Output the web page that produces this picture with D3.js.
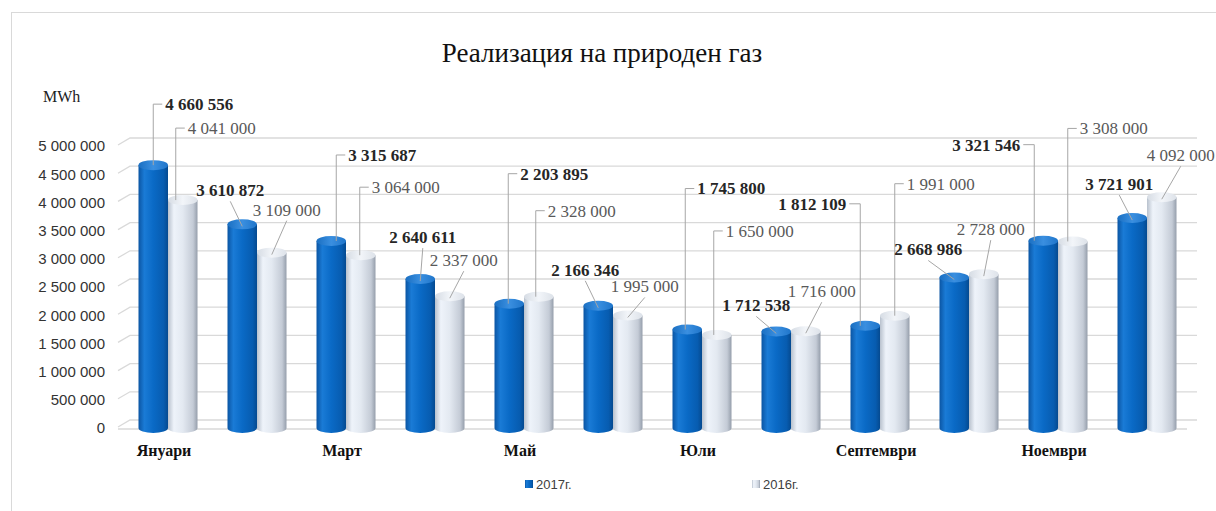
<!DOCTYPE html>
<html>
<head>
<meta charset="utf-8">
<script src="https://cdn.jsdelivr.net/npm/d3@7"></script>
<style>
  body { margin: 0; background: #fff; }
</style>
</head>
<body>
<div class="chart"></div>
<script>
// данни
const months = ["Януари", "Февруари", "Март", "Април", "Май", "Юни", "Юли", "Август", "Септември", "Октомври", "Ноември", "Декември"]
const series = ["2017г.", "2016г."]
const values2017 = [4660556, 3610872, 3315687, 2640611, 2203895, 2166346, 1745800, 1712538, 1812109, 2668986, 3321546, 3721901]
const values2016 = [4041000, 3109000, 3064000, 2337000, 2328000, 1995000, 1650000, 1716000, 1991000, 2728000, 3308000, 4092000]
const yTicks = [0, 500000, 1000000, 1500000, 2000000, 2500000, 3000000, 3500000, 4000000, 4500000, 5000000]
const shownMonths = ["Януари", "Март", "Май", "Юли", "Септември", "Ноември"]

// разположение на етикетите спрямо върха на цилиндъра: [dx, dy, вид на линията]
const place2017 = [[12, -61, "v"], [-46, -34, "d"], [17, -86, "v"], [-31, -42, "d"], [11, -130, "v"], [-47, -36, "d"],
  [10, -141, "v"], [-54, -26, "d"], [-19, -122, "vl"], [-60, -28, "d"], [-23, -96, "vl"], [-47, -34, "d"]]
const place2016 = [[5, -72, "v"], [-19, -43, "d"], [11, -68, "v"], [-20, -36, "d"], [9, -86, "v"], [-17, -29, "d"],
  [9, -104, "v"], [-18, -40, "d"], [12, -132, "v"], [-27, -45, "d"], [7, -113, "v"], [-15, -42, "d"]]

const width = 1216, height = 511
const fmt = d3.formatLocale({ decimal: ",", thousands: " ", grouping: [3], currency: ["", ""] }).format(",d")

const svg = d3.select(".chart").append("svg")
  .attr("width", width).attr("height", height)
  .style("font-family", "'Liberation Serif', 'Times New Roman', serif")

// рамка
svg.append("rect").attr("x", 11.5).attr("y", 12.5).attr("width", 1220).attr("height", 520)
  .attr("fill", "none").attr("stroke", "#d9d9d9")

const x = d3.scaleBand().domain(months).range([123.5, 1191.5])
const xs = d3.scaleBand().domain(series).range([15, 74])
const y = d3.scaleLinear().domain([0, 5000000]).range([428, 146])

const defs = svg.append("defs")
function grad(id, stops) {
  const g = defs.append("linearGradient").attr("id", id).attr("x1", 0).attr("x2", 1).attr("y1", 0).attr("y2", 0)
  stops.forEach(([o, c]) => g.append("stop").attr("offset", o).attr("stop-color", c))
}
grad("blueBody", [[0, "#0b55a3"], [0.2, "#1a7bd6"], [0.5, "#0a6ac6"], [0.85, "#075cb0"], [1, "#054a90"]])
grad("blueTop", [[0, "#1a6fc2"], [0.5, "#3a8fe0"], [1, "#1f75ca"]])
grad("whiteBody", [[0, "#b8c1cd"], [0.2, "#eef3fa"], [0.5, "#e3e9f1"], [0.85, "#c4cbd6"], [1, "#959eab"]])
grad("whiteTop", [[0, "#d6dce4"], [0.5, "#f2f5f9"], [1, "#dde2e9"]])

// мрежа (задна стена + диагонал)
const grid = svg.append("g").attr("stroke", "#d9d9d9").attr("stroke-width", 1.3).attr("fill", "none")
yTicks.forEach(t => {
  grid.append("path").attr("d", `M118,${y(t) - 1}L130,${y(t) - 8}H1197`)
})
grid.append("line").attr("x1", 118).attr("x2", 1187).attr("y1", 429).attr("y2", 429)

// ос Y
svg.append("g").attr("transform", "translate(105,0)")
  .call(d3.axisLeft(y).tickValues(yTicks).tickSize(0).tickPadding(0).tickFormat(fmt))
  .call(g => g.select(".domain").remove())
  .selectAll("text")
  .attr("font-family", "'Liberation Sans', Arial, sans-serif")
  .attr("font-size", 15).attr("fill", "#333")

svg.append("text").attr("x", 43).attr("y", 102).attr("font-size", 16).attr("fill", "#222").text("MWh")

// заглавие
svg.append("text").attr("x", 602).attr("y", 62).attr("text-anchor", "middle")
  .attr("font-size", 27).attr("fill", "#111").text("Реализация на природен газ")

// ос X
svg.append("g").selectAll("text").data(shownMonths).join("text")
  .attr("x", d => x(d) + x.bandwidth() / 2 - 4).attr("y", 456)
  .attr("text-anchor", "middle").attr("font-size", 16).attr("font-weight", "bold").attr("fill", "#111")
  .text(d => d)

const rx = xs.bandwidth() / 2, ry = 5
function cylinder(g, xc, v, body, top) {
  const yt = y(v), y0 = y(0)
  g.append("path")
    .attr("d", `M${xc - rx},${yt}V${y0}A${rx},${ry} 0 0 0 ${xc + rx},${y0}V${yt}Z`)
    .attr("fill", `url(#${body})`)
  g.append("ellipse").attr("cx", xc).attr("cy", yt).attr("rx", rx).attr("ry", ry)
    .attr("fill", `url(#${top})`)
}

const bars = svg.append("g")
months.forEach((m, i) => {
  cylinder(bars, x(m) + xs("2017г.") + rx, values2017[i], "blueBody", "blueTop")
  cylinder(bars, x(m) + xs("2016г.") + rx, values2016[i], "whiteBody", "whiteTop")
})

// етикети с водещи линии
const labels = svg.append("g")
function label(xc, v, p, bold) {
  const [dx, dy, kind] = p
  const yt = y(v), ly = yt + dy
  const t = labels.append("text")
    .attr("x", xc + dx).attr("y", ly).attr("dy", "0.35em")
    .attr("text-anchor", kind === "vl" ? "end" : "start")
    .attr("font-size", 17)
    .attr("font-weight", bold ? "bold" : "normal")
    .attr("fill", bold ? "#262626" : "#595959")
    .text(fmt(v))
  const w = t.node().getComputedTextLength()
  let d
  if (kind === "v") {
    const lx = xc + dx - 12
    d = `M${lx},${yt}V${ly}H${xc + dx - 3}`
  } else if (kind === "vl") {
    const lx = xc + dx + 14
    d = `M${xc + dx + 3},${ly}H${lx}V${yt}`
  } else {
    d = `M${xc + dx + w / 2},${ly + 11}L${xc},${yt + 2}`
  }
  labels.insert("path", "text").attr("d", d).attr("fill", "none").attr("stroke", "#a6a6a6").attr("stroke-width", 1)
}
months.forEach((m, i) => {
  label(x(m) + xs("2017г.") + rx, values2017[i], place2017[i], true)
  label(x(m) + xs("2016г.") + rx, values2016[i], place2016[i], false)
})

// легенда
const legend = svg.append("g").attr("font-family", "'Liberation Sans', Arial, sans-serif")
const legendX = [525, 752]
series.forEach((s, i) => {
  legend.append("rect").attr("x", legendX[i]).attr("y", 480).attr("width", 8).attr("height", 8)
    .attr("fill", i === 0 ? "url(#blueBody)" : "url(#whiteBody)")
  legend.append("text").attr("x", legendX[i] + 11).attr("y", 484).attr("dy", "0.35em")
    .attr("font-size", 13).attr("fill", "#404040").text(s)
})
</script>
</body>
</html>
